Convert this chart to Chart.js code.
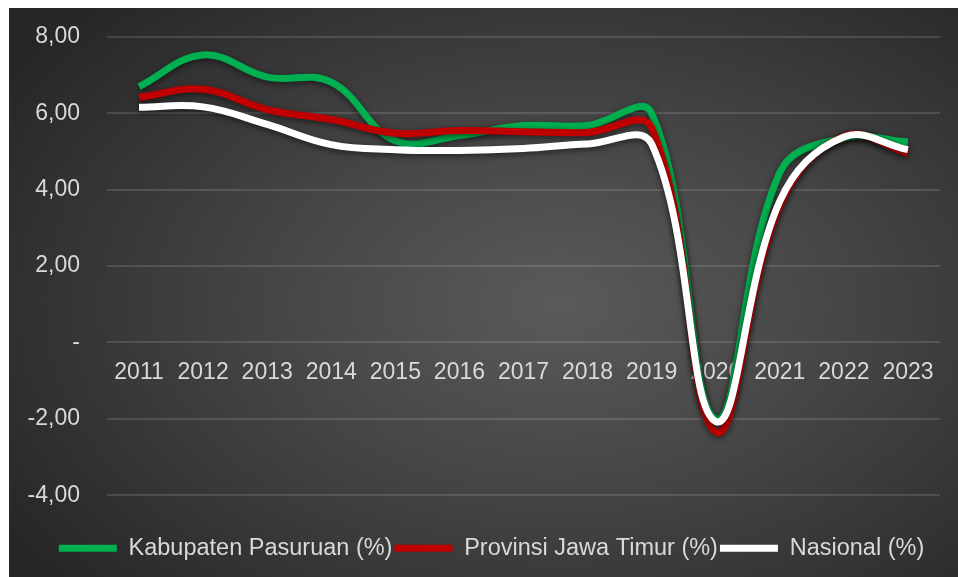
<!DOCTYPE html>
<html>
<head>
<meta charset="utf-8">
<script src="https://cdn.jsdelivr.net/npm/chart.js@4/dist/chart.umd.min.js"></script>
<style>
  html, body { margin: 0; padding: 0; background: #fff; }
  #wrap {
    position: absolute; left: 9px; top: 8px; width: 949px; height: 569px;
    background: radial-gradient(ellipse 70% 75% at 58% 52%, #5a5a5a 0%, #474747 40%, #343434 75%, #262626 100%);
  }
</style>
</head>
<body>
<div id="wrap"><canvas id="growthChart"></canvas></div>
<script>
const years = ["2011", "2012", "2013", "2014", "2015", "2016", "2017", "2018", "2019", "2020", "2021", "2022", "2023"];
const pasuruan = [6.70, 7.53, 6.95, 6.82, 5.28, 5.42, 5.68, 5.68, 6.00, -2.00, 4.45, 5.36, 5.25];
const jatim = [6.42, 6.63, 6.10, 5.84, 5.48, 5.55, 5.52, 5.50, 5.62, -2.34, 3.57, 5.40, 4.95];
const nasional = [6.16, 6.17, 5.71, 5.18, 5.05, 5.03, 5.08, 5.20, 5.20, -2.07, 3.70, 5.38, 5.05];
const yTicks = [8, 6, 4, 2, 0, -2, -4];

const textColor = "#d9d9d9";
const fontFamily = "'Liberation Sans', Arial, sans-serif";

// soft dark halo under the lines
const lineShadow = {
  id: "lineShadow",
  beforeDatasetsDraw(chart) {
    const ctx = chart.ctx;
    ctx.save();
    ctx.shadowColor = "rgba(0,0,0,0.55)";
    ctx.shadowBlur = 6;
    ctx.shadowOffsetY = 2;
  },
  afterDatasetsDraw(chart) {
    chart.ctx.restore();
  }
};

// legend sits a bit right of centre in the original
const legendShift = {
  id: "legendShift",
  afterLayout(chart) {
    chart.legend.left += 17;
    chart.legend.right += 17;
  }
};

function lineSet(label, data, color, order) {
  return {
    label: label,
    data: data,
    borderColor: color,
    backgroundColor: color,
    borderWidth: 7,
    pointRadius: 0,
    tension: 0.4,
    order: order
  };
}

new Chart(document.getElementById("growthChart"), {
  type: "line",
  data: {
    labels: years,
    datasets: [
      lineSet("Kabupaten Pasuruan (%)", pasuruan, "#00b050", 3),
      lineSet("Provinsi Jawa Timur (%)", jatim, "#c00000", 2),
      lineSet("Nasional (%)", nasional, "#ffffff", 1)
    ]
  },
  options: {
    responsive: true,
    maintainAspectRatio: false,
    animation: false,
    layout: { padding: { top: 29, right: 18, bottom: 7, left: 0 } },
    scales: {
      x: {
        position: { y: 0 },
        offset: true,
        grid: { display: false, drawTicks: false },
        border: { display: false },
        ticks: {
          color: textColor,
          padding: 16,
          maxRotation: 0,
          autoSkip: false,
          font: { family: fontFamily, size: 23 }
        }
      },
      y: {
        min: -5.03,
        max: 8,
        afterFit(scale) {
          scale.width = 98;
          scale.paddingTop = 0;
          scale.paddingBottom = 0;
        },
        afterBuildTicks(scale) { scale.ticks = yTicks.map(v => ({ value: v })); },
        grid: { color: "rgba(255,255,255,0.13)", lineWidth: 2, drawTicks: false },
        border: { display: false },
        ticks: {
          color: textColor,
          padding: 27,
          font: { family: fontFamily, size: 23 },
          callback: v => v === 0 ? "-" : v.toFixed(2).replace(".", ",")
        }
      }
    },
    plugins: {
      tooltip: { enabled: false },
      legend: {
        position: "bottom",
        labels: {
          color: textColor,
          boxWidth: 58,
          boxHeight: 7,
          padding: 2,
          font: { family: fontFamily, size: 23.5 },
          sort: (a, b) => a.datasetIndex - b.datasetIndex,
          generateLabels: chart => Chart.defaults.plugins.legend.labels.generateLabels(chart)
            .map(item => ({ ...item, lineWidth: 0, fillStyle: item.strokeStyle }))
        }
      }
    }
  },
  plugins: [lineShadow, legendShift]
});
</script>
</body>
</html>
